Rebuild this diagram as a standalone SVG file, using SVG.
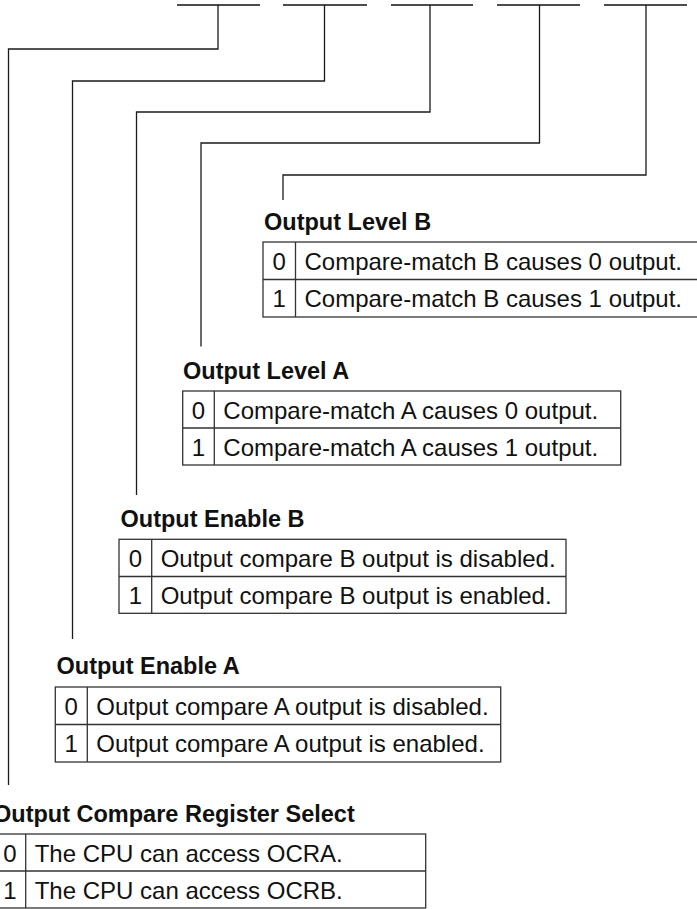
<svg xmlns="http://www.w3.org/2000/svg" width="697" height="909" viewBox="0 0 697 909">
<style>
.bar{stroke:#111;stroke-width:1.3;fill:none}
.c{stroke:#1a1a1a;stroke-width:1.3;fill:none}
.tb{stroke:#333;stroke-width:1.3;fill:none}
.title{font-family:"Liberation Sans",Arial,Helvetica,sans-serif;font-weight:bold;font-size:23.5px;fill:#111}
.row{font-family:"Liberation Sans",Arial,Helvetica,sans-serif;font-size:24px;fill:#111}
.num{font-family:"Liberation Sans",Arial,Helvetica,sans-serif;font-size:24px;fill:#111;text-anchor:middle}
</style>
<rect width="697" height="909" fill="#fff"/>
<g id="bits">
<line class="bar" x1="177" y1="5" x2="260" y2="5"/>
<line class="bar" x1="283" y1="5" x2="367" y2="5"/>
<line class="bar" x1="391" y1="5" x2="473" y2="5"/>
<line class="bar" x1="497" y1="5" x2="580" y2="5"/>
<line class="bar" x1="604" y1="5" x2="687" y2="5"/>
</g>
<g id="connectors">
<polyline class="c" points="218,5 218,49 8.5,49 8.5,785"/>
<polyline class="c" points="324.5,5 324.5,81 72.5,81 72.5,639"/>
<polyline class="c" points="430,5 430,112 136.5,112 136.5,495"/>
<polyline class="c" points="539.5,5 539.5,143 201,143 201,346.5"/>
<polyline class="c" points="646,5 646,175 283,175 283,200"/>
</g>
<g id="output-level-b">
<text class="title" x="264" y="229.5">Output Level B</text>
<rect class="tb" x="263" y="242" width="435" height="75"/>
<line class="tb" x1="263" y1="279.5" x2="698" y2="279.5"/>
<line class="tb" x1="295.5" y1="242" x2="295.5" y2="317"/>
<text class="num" x="279.3" y="269.5">0</text>
<text class="row" x="304.5" y="269.5">Compare-match B causes 0 output.</text>
<text class="num" x="279.3" y="307">1</text>
<text class="row" x="304.5" y="307">Compare-match B causes 1 output.</text>
</g>
<g id="output-level-a">
<text class="title" x="183" y="378.5">Output Level A</text>
<rect class="tb" x="182.7" y="391" width="438" height="74"/>
<line class="tb" x1="182.7" y1="428" x2="620.7" y2="428"/>
<line class="tb" x1="214.3" y1="391" x2="214.3" y2="465"/>
<text class="num" x="198.5" y="418.5">0</text>
<text class="row" x="223.3" y="418.5">Compare-match A causes 0 output.</text>
<text class="num" x="198.5" y="455.5">1</text>
<text class="row" x="223.3" y="455.5">Compare-match A causes 1 output.</text>
</g>
<g id="output-enable-b">
<text class="title" x="120.5" y="527">Output Enable B</text>
<rect class="tb" x="119" y="539.3" width="447" height="74"/>
<line class="tb" x1="119" y1="576.5" x2="566" y2="576.5"/>
<line class="tb" x1="151.7" y1="539.3" x2="151.7" y2="613.3"/>
<text class="num" x="135.4" y="566.8">0</text>
<text class="row" x="160.7" y="566.8">Output compare B output is disabled.</text>
<text class="num" x="135.4" y="604">1</text>
<text class="row" x="160.7" y="604">Output compare B output is enabled.</text>
</g>
<g id="output-enable-a">
<text class="title" x="56.5" y="674">Output Enable A</text>
<rect class="tb" x="55.3" y="687" width="445.4" height="75"/>
<line class="tb" x1="55.3" y1="724.5" x2="500.7" y2="724.5"/>
<line class="tb" x1="87.3" y1="687" x2="87.3" y2="762"/>
<text class="num" x="71.3" y="714.5">0</text>
<text class="row" x="96.3" y="714.5">Output compare A output is disabled.</text>
<text class="num" x="71.3" y="752">1</text>
<text class="row" x="96.3" y="752">Output compare A output is enabled.</text>
</g>
<g id="output-compare-register-select">
<text class="title" x="-7" y="821.5">Output Compare Register Select</text>
<rect class="tb" x="-6" y="834" width="431.7" height="74"/>
<line class="tb" x1="-6" y1="871" x2="425.7" y2="871"/>
<line class="tb" x1="25.7" y1="834" x2="25.7" y2="908"/>
<text class="num" x="9.9" y="861.5">0</text>
<text class="row" x="34.7" y="861.5">The CPU can access OCRA.</text>
<text class="num" x="9.9" y="898.5">1</text>
<text class="row" x="34.7" y="898.5">The CPU can access OCRB.</text>
</g>
</svg>
